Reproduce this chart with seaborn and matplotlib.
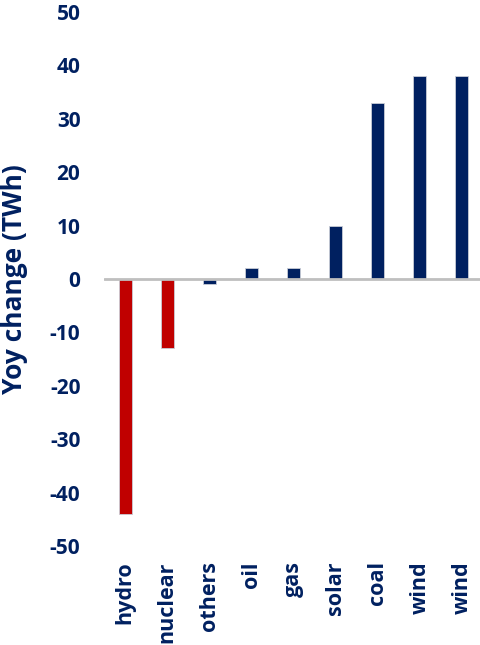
import matplotlib
matplotlib.use("Agg")
import matplotlib.pyplot as plt
import seaborn as sns
import pandas as pd

# Year-on-year change in generation by source (TWh)
categories = ["hydro", "nuclear", "others", "oil", "gas", "solar", "coal", "wind", "wind"]
values = [-44, -13, -1, 2, 2, 10, 33, 38, 38]
bar_colors = ["#C00000", "#C00000", "#002060", "#002060", "#002060",
              "#002060", "#002060", "#002060", "#002060"]
y_ticks = [-50, -40, -30, -20, -10, 0, 10, 20, 30, 40, 50]

NAVY = "#002060"

sns.set_theme(style="white")
plt.rcParams["font.family"] = ["Open Sans", "DejaVu Sans"]

df = pd.DataFrame({
    "pos": [str(i) for i in range(len(categories))],
    "value": values,
})
palette = {p: c for p, c in zip(df["pos"], bar_colors)}

fig = plt.figure(figsize=(4.81, 6.45), dpi=100)
ax = fig.add_axes([104 / 481, 1 - 546 / 645, 379 / 481, 534 / 645])

sns.barplot(data=df, x="pos", y="value", hue="pos", palette=palette,
            legend=False, width=0.31, edgecolor="#c9ccd6", linewidth=0.6,
            saturation=1, ax=ax)

ax.axhline(0, color="#bfbfbf", lw=2, zorder=5)

ax.set_ylim(-50, 50)
ax.set_yticks(y_ticks)
ax.set_yticklabels([str(t) for t in y_ticks], fontsize=15, fontweight="bold", color=NAVY)
ax.set_xticks(range(len(categories)))
ax.set_xticklabels(categories, rotation=90, fontsize=15.5, fontweight="bold",
                   color=NAVY, va="top")
ax.tick_params(axis="y", length=0, pad=17)
ax.tick_params(axis="x", length=0, pad=11)
ax.set_xlabel("")
ax.set_ylabel("Yoy change (TWh)", fontsize=19, fontweight="bold", color=NAVY)
ax.yaxis.set_label_coords(-0.235, 0.5)
ax.yaxis.label.set(va="center", ha="center", rotation_mode="anchor")

for s in ax.spines.values():
    s.set_visible(False)

fig.savefig("out.png", dpi=100)
